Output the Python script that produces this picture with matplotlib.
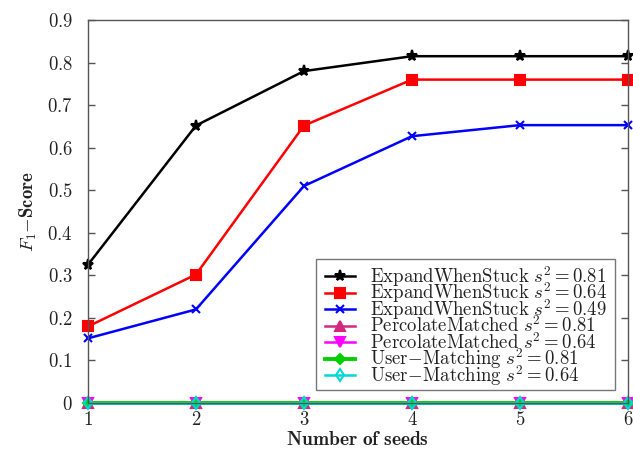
import matplotlib
matplotlib.use("Agg")
import matplotlib.pyplot as plt
import matplotlib.ticker as mticker
from matplotlib.transforms import Bbox

plt.rcParams['mathtext.fontset'] = 'cm'
plt.rcParams['font.family'] = ['DejaVu Serif']

seeds = [1, 2, 3, 4, 5, 6]
ews_081 = [0.325, 0.652, 0.780, 0.815, 0.815, 0.815]
ews_064 = [0.180, 0.302, 0.652, 0.760, 0.760, 0.760]
ews_049 = [0.152, 0.220, 0.510, 0.627, 0.653, 0.653]
pm_081 = [0, 0, 0, 0, 0, 0]
pm_064 = [0, 0, 0, 0, 0, 0]
um_081 = [0, 0, 0, 0, 0, 0]
um_064 = [0, 0, 0, 0, 0, 0]

labels = [
    r'$\mathrm{ExpandWhenStuck}\ s^2 = 0.81$',
    r'$\mathrm{ExpandWhenStuck}\ s^2 = 0.64$',
    r'$\mathrm{ExpandWhenStuck}\ s^2 = 0.49$',
    r'$\mathrm{PercolateMatched}\ s^2 = 0.81$',
    r'$\mathrm{PercolateMatched}\ s^2 = 0.64$',
    r'$\mathrm{User\!-\!Matching}\ s^2 = 0.81$',
    r'$\mathrm{User\!-\!Matching}\ s^2 = 0.64$',
]
series = [ews_081, ews_064, ews_049, pm_081, pm_064, um_081, um_064]
colors = ['black', 'red', 'blue', '#d4287f', 'magenta', '#00d000', '#00d8d8']
markers = ['*', 's', 'x', '^', 'v', 'D', 'd']
msizes = [8, 7, 6, 7, 7, 5, 6]
mfcs = ['black', 'red', 'blue', '#d4287f', 'magenta', '#00d000', 'none']
lws = [1.8, 1.8, 1.8, 1.8, 1.8, 2.8, 1.8]

fig = plt.figure(figsize=(6.33, 4.49), dpi=100)
ax = fig.add_axes([0.139, 0.1024, 0.853, 0.853])

for y, c, m, ms, mfc, lw, lab in zip(series, colors, markers, msizes, mfcs, lws, labels):
    ax.plot(seeds, y, color=c, marker=m, markersize=ms, markerfacecolor=mfc,
            markeredgecolor=c, markeredgewidth=1.5, linewidth=lw, label=lab,
            clip_on=False)

ax.set_xlim(1, 6)
ax.set_ylim(0, 0.9)
ax.set_xticks(seeds)
ax.set_yticks([i / 10 for i in range(10)])
ax.xaxis.set_major_formatter(mticker.FuncFormatter(lambda v, p: r'$\mathbf{%d}$' % round(v)))
ax.yaxis.set_major_formatter(mticker.FuncFormatter(
    lambda v, p: r'$\mathbf{0}$' if abs(v) < 1e-9 else r'$\mathbf{%.1f}$' % v))
ax.tick_params(direction='in', length=5, width=1, colors='#555555', labelcolor='#222222',
               labelsize=13.5, right=True, top=False)
ax.tick_params(axis='y', pad=11)
ax.tick_params(axis='x', pad=6)
for s in ax.spines.values():
    s.set_color('#555555')
    s.set_linewidth(1)

ax.set_xlabel(r'$\mathbf{Number\ of\ seeds}$', fontsize=14, color='#222222', labelpad=1)
ax.set_ylabel(r'$F_1\mathbf{-Score}$', fontsize=13.5, color='#222222', labelpad=6)

leg = ax.legend(loc='lower right', bbox_to_anchor=(0.976, 0.034),
                prop={'family': 'cmr10', 'size': 13.5},
                frameon=True, fancybox=False, edgecolor='#555555', handlelength=1.6,
                labelspacing=0.08, borderpad=0.45, handletextpad=0.8, borderaxespad=0,
                markerscale=1.0)
leg.get_frame().set_linewidth(1)
for t in leg.get_texts():
    t.set_color('#222222')

# give every legend row the same (tight) text height so rows are evenly spaced
try:
    renderer = fig.canvas.get_renderer()
    areas = [row.get_children()[1]
             for col in leg._legend_handle_box.get_children()
             for row in col.get_children()]
    bbs = [a.get_bbox(renderer) for a in areas]
    ylo = min(b.y0 for b in bbs) + 6
    yhi = max(b.y1 for b in bbs) - 4
    for a in areas:
        orig = a.get_bbox

        def fixed(renderer, orig=orig):
            b = orig(renderer)
            return Bbox.from_extents(b.x0, ylo, b.x1, yhi)
        a.get_bbox = fixed
except Exception:
    pass

fig.savefig('out.png', dpi=100)
